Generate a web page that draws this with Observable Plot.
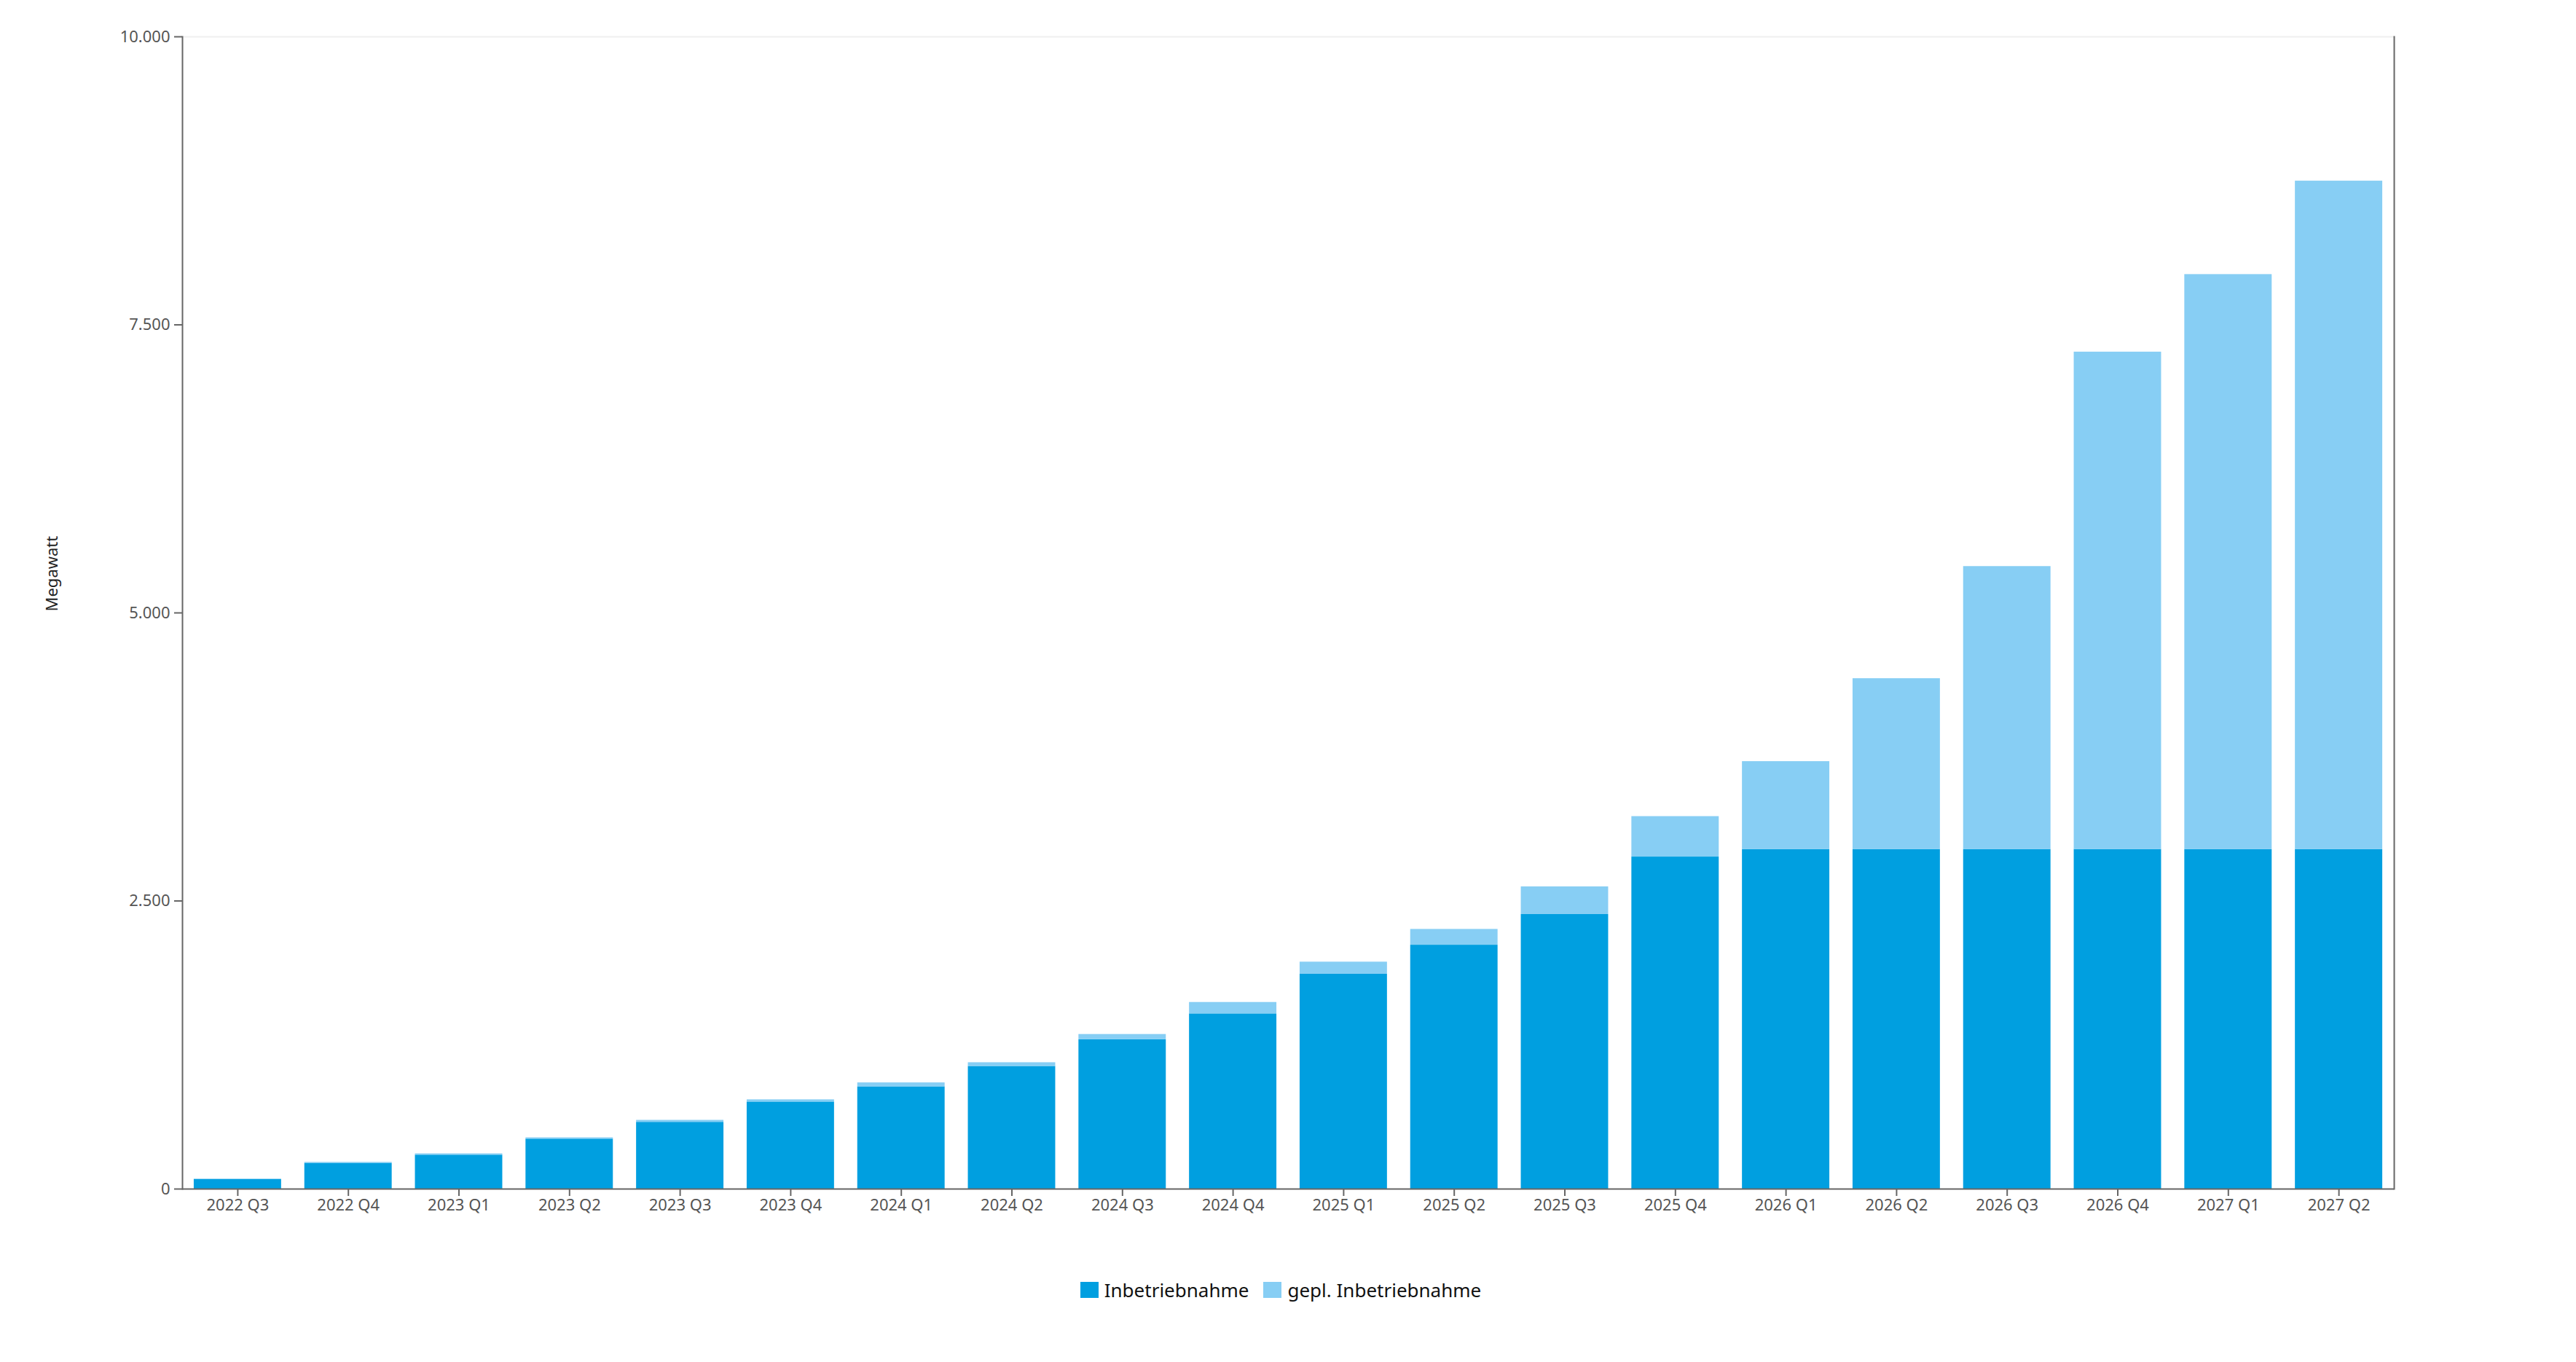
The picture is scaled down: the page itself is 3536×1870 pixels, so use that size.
<!DOCTYPE html>
<html>
<head>
<meta charset="utf-8">
<script src="https://cdn.jsdelivr.net/npm/d3@7"></script>
<script src="https://cdn.jsdelivr.net/npm/@observablehq/plot@0.6"></script>
<style>
  html, body { margin: 0; padding: 0; background: #fff; }
  #chart svg { display: block; }
  #legend {
    display: flex; justify-content: center; align-items: center;
    margin-top: 23px; height: 36px; padding-right: 20px;
    font-family: "Noto Sans", sans-serif; font-size: 26px; color: #111;
  }
  .item { display: flex; align-items: center; margin: 0 10px; }
  .sw { width: 25px; height: 22px; margin-right: 8px; }
</style>
</head>
<body>
<div id="chart"></div>
<div id="legend"></div>
<script>
const quarters = ["2022 Q3","2022 Q4","2023 Q1","2023 Q2","2023 Q3","2023 Q4","2024 Q1","2024 Q2","2024 Q3","2024 Q4",
                  "2025 Q1","2025 Q2","2025 Q3","2025 Q4","2026 Q1","2026 Q2","2026 Q3","2026 Q4","2027 Q1","2027 Q2"];
const inbetriebnahme = [84, 224, 295, 434, 580, 756, 888, 1065, 1297, 1521, 1865, 2117, 2383, 2882, 2948, 2948, 2948, 2948, 2948, 2948];
const geplant = [3, 8, 11, 11, 17, 19, 34, 32, 45, 99, 105, 137, 240, 351, 762, 1482, 2455, 4316, 4989, 5800];
const seriesNames = ["Inbetriebnahme", "gepl. Inbetriebnahme"];
const seriesColors = ["#009fe0", "#87cef4"];
const yTicks = [0, 2500, 5000, 7500, 10000];

const data = quarters.flatMap((q, i) => [
  {q, serie: seriesNames[0], v: inbetriebnahme[i]},
  {q, serie: seriesNames[1], v: geplant[i]}
]);

const fmt = d => d3.format(",")(d).replace(/,/g, ".");

const chart = Plot.plot({
  width: 3536,
  height: 1730,
  marginLeft: 250,
  marginRight: 250,
  marginTop: 50,
  marginBottom: 98,
  style: {fontFamily: "Noto Sans", fontSize: "22px", color: "#555", background: "#fff"},
  x: {domain: quarters, paddingInner: 0.21, paddingOuter: 0.105, round: false, label: null},
  y: {domain: [0, 10000], label: null},
  color: {domain: seriesNames, range: seriesColors},
  marks: [
    Plot.ruleY([10000], {stroke: "#efefef", strokeWidth: 2}),
    Plot.barY(data, {x: "q", y: "v", fill: "serie", order: seriesNames}),
    Plot.frame({anchor: "left", stroke: "#666", strokeWidth: 2}),
    Plot.frame({anchor: "right", stroke: "#666", strokeWidth: 2}),
    Plot.ruleY([0], {stroke: "#666", strokeWidth: 2}),
    Plot.axisY({ticks: yTicks, tickFormat: fmt, tickSize: 11, tickPadding: 6, stroke: "#666", strokeWidth: 2, fill: "#555", label: null}),
    Plot.axisX({tickSize: 10, tickPadding: 4, stroke: "#666", strokeWidth: 2, fill: "#555", label: null}),
    Plot.text(["Megawatt"], {frameAnchor: "left", dx: -179, dy: -2, rotate: -90, fill: "#222", fontSize: 22})
  ]
});
document.getElementById("chart").appendChild(chart);

const legend = document.getElementById("legend");
seriesNames.forEach((name, i) => {
  const item = document.createElement("div");
  item.className = "item";
  const sw = document.createElement("div");
  sw.className = "sw";
  sw.style.background = seriesColors[i];
  const label = document.createElement("span");
  label.textContent = name;
  item.appendChild(sw);
  item.appendChild(label);
  legend.appendChild(item);
});
</script>
</body>
</html>
